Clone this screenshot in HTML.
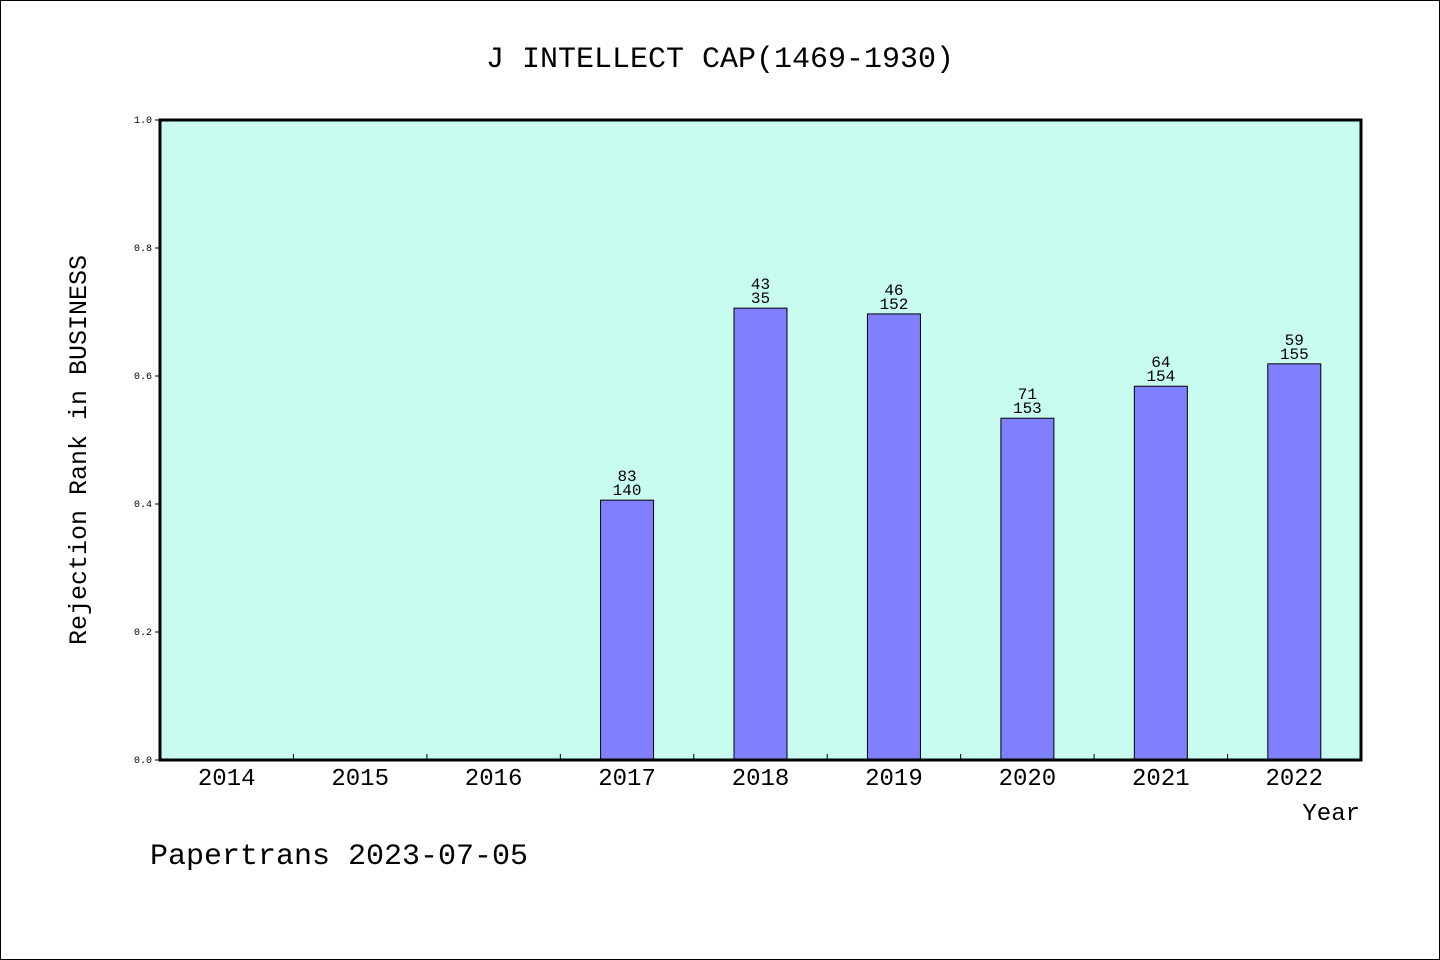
<!DOCTYPE html>
<html><head><meta charset="utf-8"><style>
html,body{margin:0;padding:0;background:#fff}
svg{display:block}
text{font-family:"Liberation Mono","DejaVu Sans Mono",monospace;fill:#000}
</style></head><body>
<svg width="1440" height="960" viewBox="0 0 1440 960">
<rect x="0.5" y="0.5" width="1439" height="959" fill="#fff" stroke="#000"/>
<text x="720" y="67" font-size="30" text-anchor="middle">J INTELLECT CAP(1469-1930)</text>
<rect x="160" y="120" width="1201" height="640" fill="#c8fcef"/>
<g id="bars"></g>
<g id="axes"></g>
<rect x="160" y="120" width="1201" height="640" fill="none" stroke="#000" stroke-width="3"/>
<text x="86" y="450" font-size="25" text-anchor="middle" transform="rotate(-90 86 450)">Rejection Rank in BUSINESS</text>
<text x="1360" y="820" font-size="24" text-anchor="end">Year</text>
<text x="150" y="864" font-size="30">Papertrans 2023-07-05</text>
</svg>
<script>
const categories=["2014","2015","2016","2017","2018","2019","2020","2021","2022"];
const values=[0,0,0,0.406,0.706,0.697,0.534,0.584,0.619];
const labelTop=["","","","83","43","46","71","64","59"];
const labelBottom=["","","","140","35","152","153","154","155"];
const yTicks=[0,0.2,0.4,0.6,0.8,1.0];
const yTickLabels=["0.0","0.2","0.4","0.6","0.8","1.0"];
const NS="http://www.w3.org/2000/svg";
const L=160,R=1361,T=120,B=760;
const band=(R-L)/categories.length;
const xc=i=>L+band*(i+0.5);
const y=v=>B-(B-T)*v;
function mk(tag,attrs,parent,txt){const e=document.createElementNS(NS,tag);for(const k in attrs)e.setAttribute(k,attrs[k]);if(txt!==undefined)e.textContent=txt;parent.appendChild(e);return e;}
const gb=document.getElementById('bars'),ga=document.getElementById('axes');
const bw=53;
values.forEach((v,i)=>{
  if(v>0){
    const r=mk('rect',{x:xc(i)-bw/2,y:y(v),width:bw,height:B-y(v),fill:'#8080ff',stroke:'#000','stroke-width':1},gb);
    
    
    const t1=mk('text',{x:xc(i),y:y(v)-19,'font-size':16,'text-anchor':'middle'},gb,labelTop[i]);
    
    
    const t2=mk('text',{x:xc(i),y:y(v)-5,'font-size':16,'text-anchor':'middle'},gb,labelBottom[i]);
    
    
  }
  const tl=mk('text',{x:xc(i),y:785,'font-size':24,'text-anchor':'middle'},ga,categories[i]);
  
  
  if(i>0){
    const tk=mk('line',{x1:L+band*i,x2:L+band*i,y1:B,y2:B-6,stroke:'#000','stroke-width':1},ga);
    
    
  }
});
yTicks.forEach((v,i)=>{
  const tk=mk('line',{x1:L-5,x2:L,y1:y(v),y2:y(v),stroke:'#000','stroke-width':1},ga);
  
  
  const tl=mk('text',{x:152,y:y(v)+3,'font-size':10,'text-anchor':'end'},ga,yTickLabels[i]);
  
  
});
</script>
</body></html>
